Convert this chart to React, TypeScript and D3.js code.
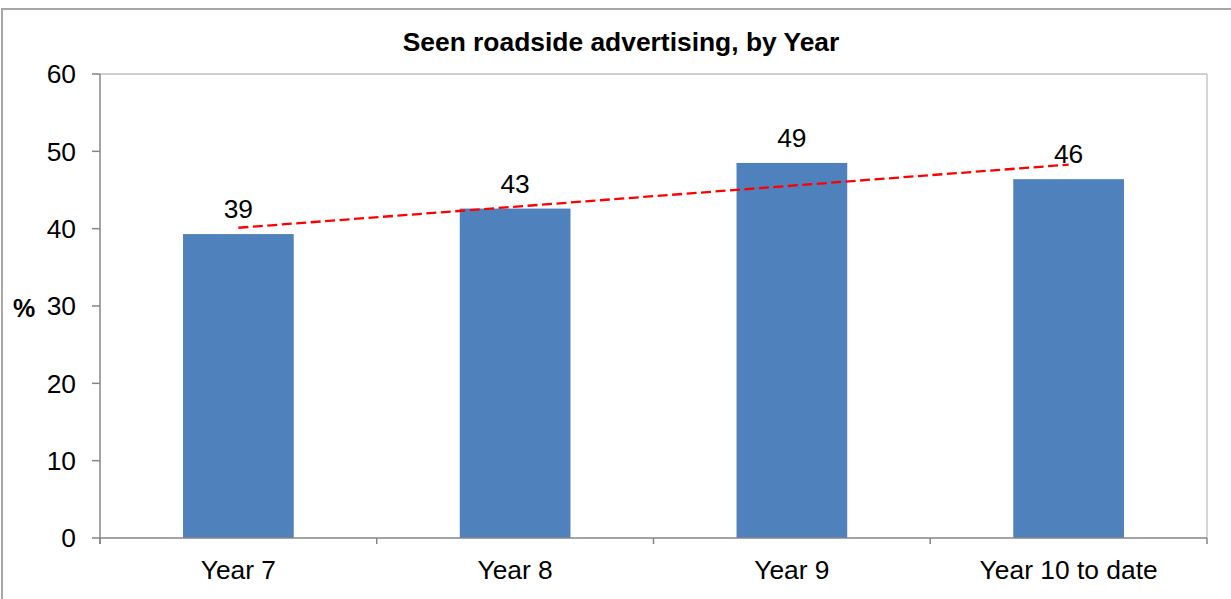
import React from "react";
import * as d3 from "d3";

const categories = ["Year 7", "Year 8", "Year 9", "Year 10 to date"];
const values = [39.3, 42.6, 48.5, 46.4];
const yTicks = [0, 10, 20, 30, 40, 50, 60];
const title = "Seen roadside advertising, by Year";
const yLabel = "%";

const W = 1231;
const H = 599;
const FONT = "'Liberation Sans', Arial, Helvetica, sans-serif";

export default function App() {
  const left = 100;
  const right = 1207;
  const top = 74;
  const bottom = 538;

  const x = d3.scaleBand<string>().domain(categories).range([left, right]).paddingInner(0).paddingOuter(0);
  const y = d3.scaleLinear().domain([0, 60]).range([bottom, top]);
  const barW = x.bandwidth() * 0.4;

  // linear trendline (least squares over category index)
  const n = values.length;
  const xs = values.map((_, i) => i + 1);
  const mx = d3.mean(xs) as number;
  const my = d3.mean(values) as number;
  const slope =
    d3.sum(xs.map((xi, i) => (xi - mx) * (values[i] - my))) /
    d3.sum(xs.map((xi) => (xi - mx) * (xi - mx)));
  const intercept = my - slope * mx;
  const cx = (c: string) => (x(c) as number) + x.bandwidth() / 2;
  const trend = d3
    .line<number>()
    .x((i) => cx(categories[i]))
    .y((i) => y(intercept + slope * (i + 1)));
  const trendPath = trend([0, n - 1]) as string;

  const boundaries = d3.range(categories.length + 1).map((i) => left + i * x.bandwidth());

  return (
    <div style={{ position: "absolute", left: 0, top: 0 }}>
      <svg width={W} height={H} style={{ display: "block", fontFamily: FONT }}>
        <rect x={0} y={0} width={W} height={H} fill="#fff" />
        {/* outer frame */}
        <rect x={2} y={9} width={W + 10} height={H + 10} fill="none" stroke="#a6a6a6" strokeWidth={2} />
        {/* plot border (top/right) */}
        <line x1={left} x2={right} y1={top} y2={top} stroke="#c0c0c0" strokeWidth={1.3} />
        <line x1={right} x2={right} y1={top} y2={bottom} stroke="#c0c0c0" strokeWidth={1.3} />

        <text x={621} y={51} textAnchor="middle" fontSize={26.4} fontWeight="bold" fill="#000">
          {title}
        </text>

        {/* bars */}
        {categories.map((c, i) => (
          <rect
            key={c}
            x={cx(c) - barW / 2}
            y={y(values[i])}
            width={barW}
            height={y(0) - y(values[i])}
            fill="#4f81bd"
          />
        ))}

        {/* value labels */}
        {categories.map((c, i) => (
          <text key={c} x={cx(c)} y={y(values[i]) - 16} textAnchor="middle" fontSize={26.4} fill="#000">
            {Math.round(values[i])}
          </text>
        ))}

        {/* trendline */}
        <path d={trendPath} fill="none" stroke="#ff0000" strokeWidth={2.3} strokeDasharray="10,4.5" />

        {/* y axis */}
        <line x1={left} x2={left} y1={top} y2={bottom + 6} stroke="#868686" strokeWidth={1.5} />
        {yTicks.map((t) => (
          <g key={t}>
            <line x1={left - 8} x2={left} y1={y(t)} y2={y(t)} stroke="#868686" strokeWidth={1.5} />
            <text x={76} y={y(t) + 9.3} textAnchor="end" fontSize={26.4} fill="#000">
              {t}
            </text>
          </g>
        ))}
        <text x={24} y={y(30) + 11} textAnchor="middle" fontSize={25} fontWeight="bold" fill="#000">
          {yLabel}
        </text>

        {/* x axis */}
        <line x1={left} x2={right} y1={bottom} y2={bottom} stroke="#868686" strokeWidth={1.5} />
        {boundaries.map((b, i) => (
          <line key={i} x1={b} x2={b} y1={bottom} y2={bottom + 6} stroke="#868686" strokeWidth={1.5} />
        ))}
        {categories.map((c) => (
          <text key={c} x={cx(c)} y={579} textAnchor="middle" fontSize={26.4} fill="#000">
            {c}
          </text>
        ))}
      </svg>
    </div>
  );
}
